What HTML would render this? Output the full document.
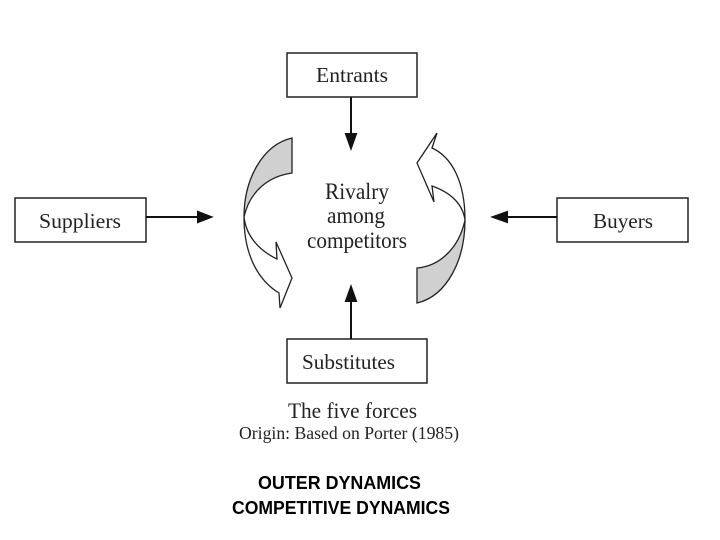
<!DOCTYPE html>
<html><head><style>
html,body{margin:0;padding:0;background:#fff;width:720px;height:540px;overflow:hidden}
</style></head><body>
<svg width="720" height="540" viewBox="0 0 720 540" xmlns="http://www.w3.org/2000/svg">
<g fill="#fff" stroke="#222" stroke-width="1.5">
<rect x="287" y="53" width="130" height="44"/>
<rect x="15" y="198" width="131" height="44"/>
<rect x="557" y="198" width="131" height="44"/>
<rect x="287" y="339" width="140" height="44"/>
</g>
<g stroke="#111" stroke-width="2" fill="#111">
<line x1="351" y1="97" x2="351" y2="138"/><polygon points="346,134 356,134 351,148"/>
<line x1="351" y1="339" x2="351" y2="297"/><polygon points="346,301 356,301 351,287"/>
<line x1="146" y1="217" x2="202" y2="217"/><polygon points="198,212 198,222 211,217"/>
<line x1="557" y1="217" x2="503" y2="217"/><polygon points="507,212 507,222 493,217"/>
</g>
<g stroke="#222" stroke-width="1.3">
<path d="M292,138 C262,145 244,180 244,217 C250,190 270,176 292,173 Z" fill="#d0d0d0"/>
<path d="M244,217 C244,255 258,280 279,293 L280,308 L292,278 L276,242 L277,259 C258,250 246,235 244,217 Z" fill="#fff"/>
<path d="M417,303 C447,296 465,260 465,220 C459,248 440,266 417,268 Z" fill="#d0d0d0"/>
<path d="M465,220 C465,182 452,157 432,148 L437,133 L417,163 L434,202 L432,186 C452,193 463,205 465,220 Z" fill="#fff"/>
</g>
<g font-family="Liberation Serif, serif" fill="#222">
<text x="316" y="82" font-size="21" textLength="72" lengthAdjust="spacingAndGlyphs">Entrants</text>
<text x="39" y="228" font-size="21" textLength="82" lengthAdjust="spacingAndGlyphs">Suppliers</text>
<text x="593" y="228" font-size="21" textLength="60" lengthAdjust="spacingAndGlyphs">Buyers</text>
<text x="302" y="369" font-size="21" textLength="93" lengthAdjust="spacingAndGlyphs">Substitutes</text>
<text x="325" y="199" font-size="23" textLength="64" lengthAdjust="spacingAndGlyphs">Rivalry</text>
<text x="327" y="223" font-size="23" textLength="58" lengthAdjust="spacingAndGlyphs">among</text>
<text x="307" y="248" font-size="23" textLength="100" lengthAdjust="spacingAndGlyphs">competitors</text>
<text x="288" y="418" font-size="22" textLength="129" lengthAdjust="spacingAndGlyphs">The five forces</text>
<text x="239" y="439" font-size="18" textLength="220" lengthAdjust="spacingAndGlyphs">Origin: Based on Porter (1985)</text>
</g>
<g font-family="Liberation Sans, sans-serif" font-weight="bold" font-size="18" fill="#000">
<text x="258" y="489" textLength="163" lengthAdjust="spacingAndGlyphs">OUTER DYNAMICS</text>
<text x="232" y="514" textLength="218" lengthAdjust="spacingAndGlyphs">COMPETITIVE DYNAMICS</text>
</g>
</svg>
</body></html>
